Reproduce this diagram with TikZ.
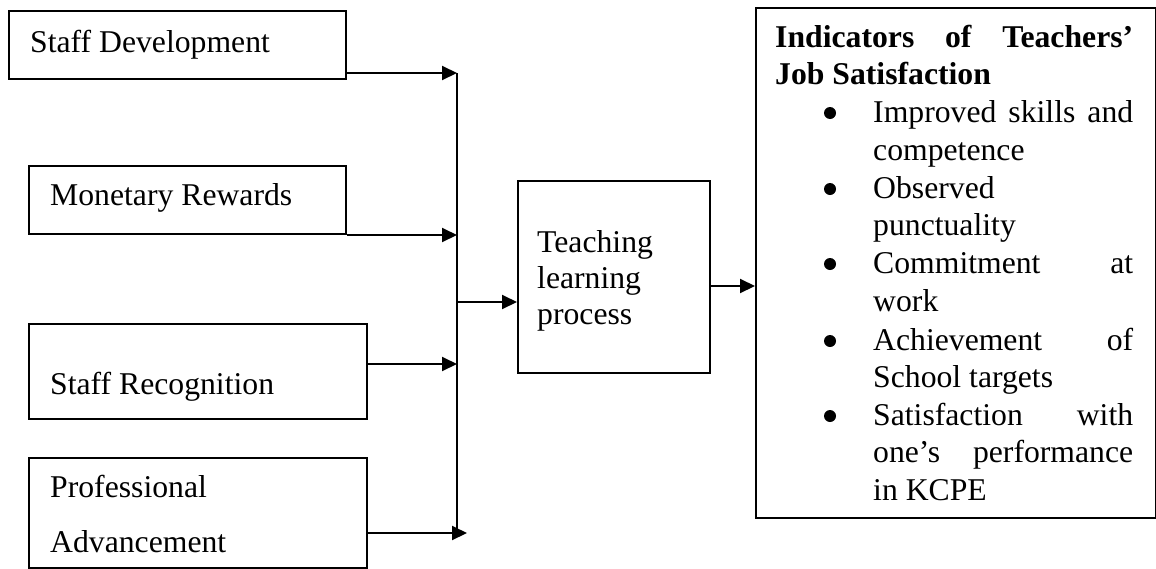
\documentclass[tikz,border=0pt]{standalone}
\usepackage{fontspec}
\setmainfont{Liberation Serif}
\usetikzlibrary{arrows.meta}
\tikzset{
  box/.style={draw, line width=2pt, inner sep=0pt, anchor=north west},
  txt/.style={inner sep=0pt, anchor=base west, font=\fontsize{31.7pt}{37.7pt}\selectfont},
  boldtxt/.style={txt, font=\fontsize{31.7pt}{37.7pt}\selectfont\bfseries},
  conn/.style={line width=2pt},
  arr/.style={conn, -{Triangle[length=15pt,width=14pt]}},
  bul/.style={circle, fill, inner sep=0pt, minimum size=12pt}
}
\begin{document}
\begin{tikzpicture}[x=1pt,y=-1pt]
\useasboundingbox (0,0) rectangle (1156,568);
% boxes
\node[box, minimum width=337pt, minimum height=68pt] (sd) at (8,10) {};
\node[box, minimum width=317pt, minimum height=68pt] (mr) at (28,165) {};
\node[box, minimum width=338pt, minimum height=95pt] (sr) at (28,323) {};
\node[box, minimum width=338pt, minimum height=110pt] (pa) at (28,457) {};
\node[box, minimum width=192pt, minimum height=192pt] (tl) at (517,180) {};
\node[box, minimum width=400pt, minimum height=510pt] (ind) at (755,7) {};
% texts
\node[txt] (t1) at (30,52) {Staff Development};
\node[txt] (t2) at (50,205) {Monetary Rewards};
\node[txt] (t3) at (50,394) {Staff Recognition};
\node[txt] (t4a) at (50,497) {Professional};
\node[txt] (t4b) at (50,552) {Advancement};
\node[txt] (t5a) at (537,252) {Teaching};
\node[txt] (t5b) at (537,288) {learning};
\node[txt] (t5c) at (537,324) {process};
\node[boldtxt] (h1) at (775,47) {\makebox[358pt][s]{Indicators of Teachers’}};
\node[boldtxt] (h2) at (775,84) {Job Satisfaction};
\node[txt] (i1) at (873,122) {\makebox[260pt][s]{Improved skills and}};
\node[txt] (i2) at (873,160) {competence};
\node[txt] (i3) at (873,198) {Observed};
\node[txt] (i4) at (873,235) {punctuality};
\node[txt] (i5) at (873,273) {\makebox[260pt][s]{Commitment at}};
\node[txt] (i6) at (873,311) {work};
\node[txt] (i7) at (873,350) {\makebox[260pt][s]{Achievement of}};
\node[txt] (i8) at (873,387) {School targets};
\node[txt] (i9) at (873,425) {\makebox[260pt][s]{Satisfaction with}};
\node[txt] (i10) at (873,462) {\makebox[260pt][s]{one’s performance}};
\node[txt] (i11) at (873,500) {in KCPE};
% bullets
\node[bul] (b1) at (830,113) {};
\node[bul] (b2) at (830,189) {};
\node[bul] (b3) at (830,264) {};
\node[bul] (b4) at (830,341) {};
\node[bul] (b5) at (830,416) {};
% connectors
\coordinate (jt) at (457,73);
\coordinate (j2) at (457,235);
\coordinate (jm) at (457,302);
\coordinate (j3) at (457,364);
\coordinate (jb) at (457,533);
\coordinate (pend) at (467,533);
\coordinate (o) at (709,286);
\draw[conn] (jt) -- (jb);
\draw[arr] (sd.east |- jt) -- (jt);
\draw[arr] (mr.east |- j2) -- (j2);
\draw[arr] (sr.east |- j3) -- (j3);
\draw[arr] (pa.east |- pend) -- (pend);
\draw[arr] (jm) -- (jm -| tl.west);
\draw[arr] (tl.east |- o) -- (ind.west |- o);
\end{tikzpicture}
\end{document}
